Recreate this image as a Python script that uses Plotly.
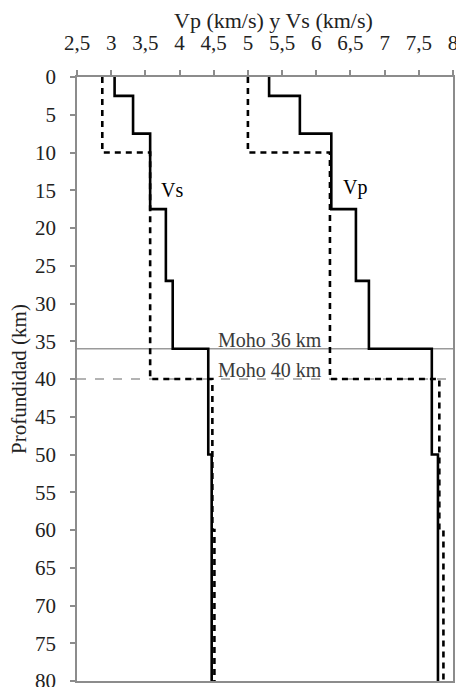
import plotly.graph_objects as go

# Layered models: layer boundaries (km) and velocity in each layer (km/s)
depths_a = [0, 2.5, 7.5, 17.5, 27, 36, 50, 80]
vs_a = [3.05, 3.32, 3.57, 3.80, 3.90, 4.42, 4.47]
vp_a = [5.31, 5.76, 6.22, 6.58, 6.77, 7.69, 7.78]

depths_b = [0, 10, 40, 60, 80]
vs_b = [2.87, 3.57, 4.48, 4.51]
vp_b = [5.00, 6.20, 7.80, 7.86]

moho_depths = [36, 40]
moho_labels = ["Moho 36 km", "Moho 40 km"]

x_ticks = [2.5, 3, 3.5, 4, 4.5, 5, 5.5, 6, 6.5, 7, 7.5, 8]
x_ticktext = ["2,5", "3", "3,5", "4", "4,5", "5", "5,5", "6", "6,5", "7", "7,5", "8"]
y_ticks = list(range(0, 85, 5))

x_title = "Vp (km/s) y Vs (km/s)"
y_title = "Profundidad (km)"


def steps(depths, vals):
    xs, ys = [], []
    for i, v in enumerate(vals):
        xs += [v, v]
        ys += [depths[i], depths[i + 1]]
    return xs, ys


FONT = "Liberation Serif"
fig = go.Figure()

for d, dash in zip(moho_depths, ["solid", "dash"]):
    fig.add_shape(type="line", xref="paper", x0=0, x1=1, yref="y", y0=d, y1=d,
                  line=dict(color="#9a9a9a", width=1.5, dash=dash), layer="below")

for depths, vals, dash in [(depths_a, vs_a, "solid"), (depths_a, vp_a, "solid"),
                           (depths_b, vs_b, "6px,5px"), (depths_b, vp_b, "6px,5px")]:
    xs, ys = steps(depths, vals)
    fig.add_trace(go.Scatter(x=xs, y=ys, mode="lines",
                             line=dict(color="black", width=2.6, dash=dash),
                             showlegend=False, hoverinfo="skip", cliponaxis=False))

for d, lab in zip(moho_depths, moho_labels):
    fig.add_annotation(x=5.33, y=d, text=lab, showarrow=False, yanchor="bottom",
                       yshift=-4, font=dict(family=FONT, size=20, color="#3a3a3a"))

fig.add_annotation(x=3.89, y=15, text="Vs", showarrow=False,
                   font=dict(family=FONT, size=20, color="black"))
fig.add_annotation(x=6.56, y=14.7, text="Vp", showarrow=False,
                   font=dict(family=FONT, size=20, color="black"))

# axis titles
fig.add_annotation(xref="paper", yref="paper", x=0.5226, y=1, yshift=57,
                   xanchor="center", yanchor="middle", text=x_title, showarrow=False,
                   font=dict(family=FONT, size=22, color="#222222"))
fig.add_annotation(xref="paper", yref="paper", x=0, y=0.5, xshift=-58,
                   xanchor="center", yanchor="middle", text=y_title, textangle=-90,
                   showarrow=False, font=dict(family=FONT, size=21, color="#222222"))

axis_common = dict(showline=True, linecolor="#8c8c8c", linewidth=1.5, mirror=True,
                   ticks="outside", ticklen=5, tickcolor="#8c8c8c", tickwidth=1.5,
                   showgrid=False, zeroline=False, automargin=False,
                   ticklabeloverflow="allow",
                   tickfont=dict(family=FONT, size=21, color="#222222"))

fig.update_layout(
    width=456, height=687,
    margin=dict(l=77, r=3, t=77, b=6),
    plot_bgcolor="white", paper_bgcolor="white",
    font=dict(family=FONT),
    xaxis=dict(side="top", range=[2.5, 8], tickvals=x_ticks, ticktext=x_ticktext,
               ticklabelstandoff=12, **axis_common),
    yaxis=dict(range=[80, 0], tickvals=y_ticks, ticklabelstandoff=10,
               **axis_common),
)

fig.write_html("out.html", config={"displayModeBar": False},
               post_script="document.body.style.margin='0';")
